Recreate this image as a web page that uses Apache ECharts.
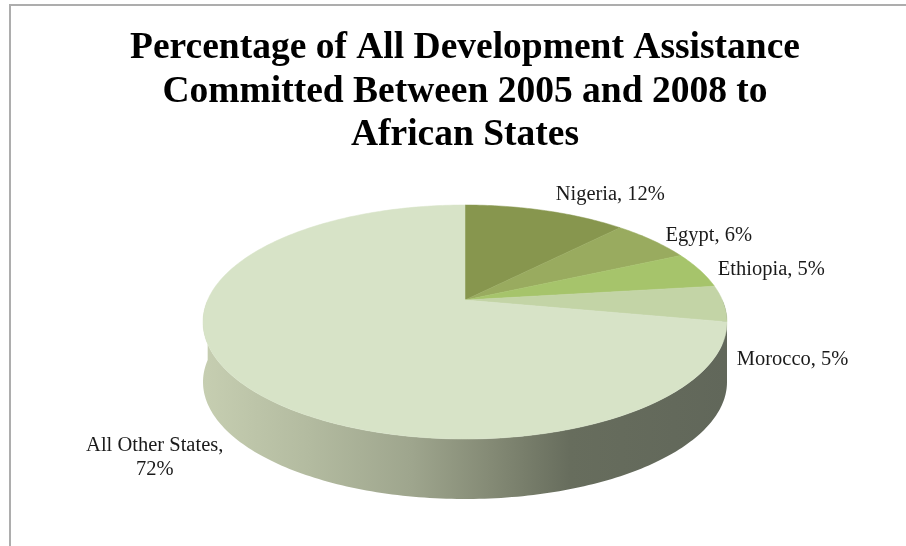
<!DOCTYPE html>
<html>
<head>
<meta charset="utf-8">
<script src="https://cdn.jsdelivr.net/npm/echarts@6/dist/echarts.min.js"></script>
<style>
  html, body { margin: 0; padding: 0; background: #fff; }
  #aid_chart { width: 906px; height: 546px; }
</style>
</head>
<body>
<div id="aid_chart"></div>
<script>
const titleLines = [
    'Percentage of All Development Assistance',
    'Committed Between 2005 and 2008 to',
    'African States'
];
const countries = ['Nigeria', 'Egypt', 'Ethiopia', 'Morocco', 'All Other States'];
const shares = [12, 6, 5, 5, 72];

// slice colours (top face), same order as countries
const sliceColors = ['#87964e', '#99ab5f', '#a6c46b', '#c3d4a6', '#d7e3c7'];
// label nudges relative to the slice's mid point on the rim, plus alignment
const labelNudge = [[10, -16, 'left'], [13, -5, 'left'], [18, 0, 'left'], [13, 56, 'left'], [-85, 76, 'center']];

// 3D-ish pie geometry
const cx = 465, cy = 322, rx = 262, ry = 117, depth = 60;
const tilt = -0.188;
const ch = 1 / Math.sqrt(1 - tilt * tilt), sh = tilt * ch;

function project(theta, r) {
    // theta in radians, clockwise from 12 o'clock; perspective tilt through a projective map
    const x = r * Math.sin(theta), y = -r * Math.cos(theta);
    const y2 = ch * y + sh, w2 = sh * y + ch;
    return [cx + rx * x / w2, cy + ry * y2 / w2];
}

const total = shares.reduce((a, b) => a + b, 0);
const starts = [];
shares.reduce((acc, v) => { starts.push(acc); return acc + v; }, 0);

function angleRange(i) {
    const a0 = starts[i] / total * 2 * Math.PI;
    const a1 = (starts[i] + shares[i]) / total * 2 * Math.PI;
    return [a0, a1];
}

function arcPoints(a0, a1, dy) {
    const pts = [];
    const n = Math.max(2, Math.ceil((a1 - a0) / (Math.PI / 180)));
    for (let k = 0; k <= n; k++) {
        const p = project(a0 + (a1 - a0) * k / n, 1);
        pts.push([p[0], p[1] + dy]);
    }
    return pts;
}

function renderTop(params, api) {
    const i = params.dataIndex;
    const [a0, a1] = angleRange(i);
    const pts = [project(0, 0)].concat(arcPoints(a0, a1, 0));
    const mid = project((a0 + a1) / 2, 1);
    const nudge = labelNudge[i];
    const name = countries[i];
    const text = name.length > 12 ? name + ',\n' + api.value(0) + '%' : name + ', ' + api.value(0) + '%';
    return {
        type: 'group',
        children: [
            {type: 'polygon', shape: {points: pts}, style: {fill: sliceColors[i], stroke: sliceColors[i], lineWidth: 0.5}},
            {
                type: 'text', x: mid[0] + nudge[0], y: mid[1] + nudge[1],
                style: {
                    text: text, fill: '#1a1a1a', font: '20.5px "Liberation Serif"',
                    align: nudge[2], verticalAlign: 'middle', lineHeight: 24
                }
            }
        ]
    };
}

function renderRim(params, api) {
    const i = params.dataIndex;
    let [a0, a1] = angleRange(i);
    a0 = Math.max(a0, Math.PI / 2);
    a1 = Math.min(a1, Math.PI * 3 / 2);
    if (a1 <= a0) return {type: 'group', children: []};
    const top = arcPoints(a0, a1, 0);
    const bottom = arcPoints(a0, a1, depth).reverse();
    return {
        type: 'polygon',
        shape: {points: top.concat(bottom)},
        style: {
            fill: new echarts.graphic.LinearGradient(cx - rx, 0, cx + rx, 0, [
                {offset: 0, color: '#c6ceb1'},
                {offset: 0.2, color: '#b3bba0'},
                {offset: 0.4, color: '#9ea58d'},
                {offset: 0.55, color: '#848a75'},
                {offset: 0.7, color: '#676d5d'},
                {offset: 1, color: '#61675a'}
            ], true)
        }
    };
}

const myChart = echarts.init(document.getElementById('aid_chart'));
const option = {
    animation: false,
    backgroundColor: '#ffffff',
    graphic: [
        {
            type: 'rect',
            shape: {x: 10, y: 5, width: 1200, height: 1200},
            style: {fill: 'none', stroke: '#adadad', lineWidth: 2},
            silent: true
        },
        {
            // chart title, centred over the pie rather than the page
            type: 'text',
            x: 465, y: 27,
            silent: true,
            style: {
                text: titleLines.join('\n'),
                font: 'bold 37.5px "Liberation Serif"',
                fill: '#000',
                align: 'center',
                verticalAlign: 'top',
                lineHeight: 43.5
            }
        }
    ],
    series: [
        {type: 'custom', coordinateSystem: 'none', silent: true, z: 1, renderItem: renderRim, data: shares},
        {type: 'custom', coordinateSystem: 'none', silent: true, z: 2, renderItem: renderTop, data: shares}
    ]
};
myChart.setOption(option);
</script>
</body>
</html>
